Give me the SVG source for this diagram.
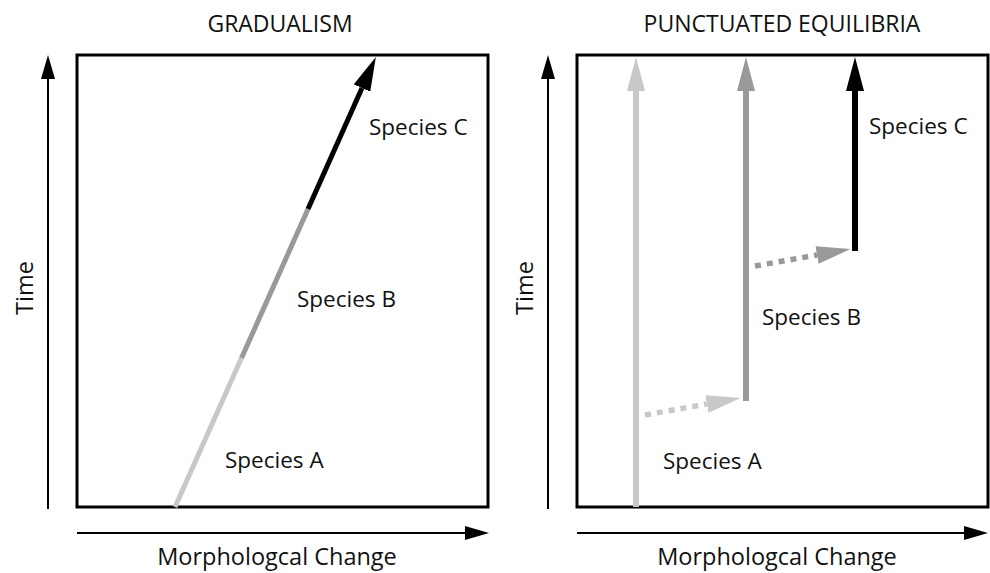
<svg xmlns="http://www.w3.org/2000/svg" width="990" height="573" viewBox="0 0 990 573">
<style>
text{font-family:"Open Sans","Noto Sans",sans-serif;fill:#111}
.title{font-size:23px;text-anchor:middle}
.lbl{font-size:22.5px}
.axl{font-size:23.5px;text-anchor:middle}
.box{fill:none;stroke:#000;stroke-width:3}
.ax{stroke:#000;stroke-width:2;fill:none}
.light{stroke:#c8c8c8}
.mid{stroke:#999}
.dark{stroke:#000}
.sp{stroke-width:6;fill:none}
.dot{stroke-width:5.5;fill:none;stroke-dasharray:6 6}
</style>
<defs>
<marker id="axHead" markerUnits="userSpaceOnUse" markerWidth="26" markerHeight="14" refX="0" refY="7" orient="auto"><path d="M0,0 L24,7 L0,14 z" fill="#000"/></marker>
<marker id="hLight" markerUnits="userSpaceOnUse" markerWidth="36" markerHeight="18" refX="0" refY="9" orient="auto"><path d="M0,0 L34,9 L0,18 z" fill="#c8c8c8"/></marker>
<marker id="hMid" markerUnits="userSpaceOnUse" markerWidth="36" markerHeight="18" refX="0" refY="9" orient="auto"><path d="M0,0 L34,9 L0,18 z" fill="#999"/></marker>
<marker id="hDark" markerUnits="userSpaceOnUse" markerWidth="36" markerHeight="18" refX="0" refY="9" orient="auto"><path d="M0,0 L34,9 L0,18 z" fill="#000"/></marker>
</defs>

<g id="gradualism-panel">
<text class="title" x="280" y="32">GRADUALISM</text>
<rect class="box" x="77" y="55" width="411" height="452"/>
</g>
<g id="punctuated-panel">
<text class="title" x="782" y="32">PUNCTUATED EQUILIBRIA</text>
<rect class="box" x="577" y="55" width="411" height="452"/>
</g>

<g id="axes">
<line class="ax" x1="48" y1="509" x2="48" y2="79" marker-end="url(#axHead)"/>
<line class="ax" x1="77" y1="533" x2="465" y2="533" marker-end="url(#axHead)"/>
<text class="axl" transform="translate(33,288) rotate(-90)">Time</text>
<text class="axl" x="277" y="565">Morphologcal Change</text>
<line class="ax" x1="548" y1="509" x2="548" y2="79" marker-end="url(#axHead)"/>
<line class="ax" x1="577" y1="533" x2="964" y2="533" marker-end="url(#axHead)"/>
<text class="axl" transform="translate(533,288) rotate(-90)">Time</text>
<text class="axl" x="777" y="565">Morphologcal Change</text>
</g>

<g id="connectors">
<line class="light" stroke-width="5" x1="175" y1="507" x2="241.5" y2="358"/>
<line class="mid" stroke-width="5" x1="241.5" y1="358" x2="308" y2="209"/>
<line class="dark" stroke-width="5" x1="308" y1="209" x2="362" y2="88" marker-end="url(#hDark)"/>

<line class="sp light" x1="636" y1="507" x2="636" y2="91" marker-end="url(#hLight)"/>
<line class="sp mid" x1="746" y1="401" x2="746" y2="91" marker-end="url(#hMid)"/>
<line class="sp dark" x1="855" y1="251" x2="855" y2="91" marker-end="url(#hDark)"/>
<line class="dot light" x1="645" y1="415" x2="707" y2="404" marker-end="url(#hLight)"/>
<line class="dot mid" x1="755" y1="266" x2="817" y2="255" marker-end="url(#hMid)"/>
</g>

<g id="species-labels">
<text class="lbl" x="369" y="135">Species C</text>
<text class="lbl" x="297" y="307">Species B</text>
<text class="lbl" x="225" y="468">Species A</text>
<text class="lbl" x="869" y="134">Species C</text>
<text class="lbl" x="762" y="325">Species B</text>
<text class="lbl" x="663" y="469">Species A</text>
</g>
</svg>
